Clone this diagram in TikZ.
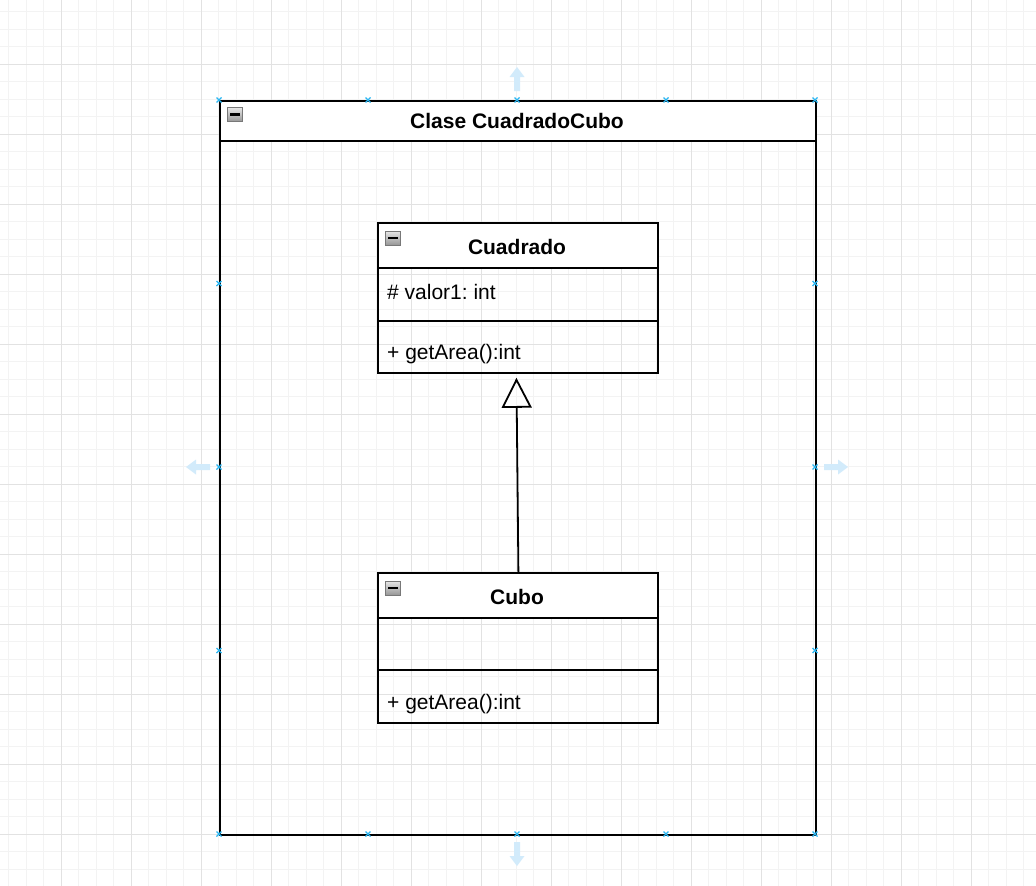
\documentclass[tikz,border=0pt]{standalone}
\usepackage{fontspec}
\setmainfont{Liberation Sans}
\usetikzlibrary{arrows.meta}
\frenchspacing
\definecolor{gridminor}{RGB}{243,243,243}
\definecolor{gridmajor}{RGB}{226,226,226}
\definecolor{handleblue}{RGB}{41,182,242}
\definecolor{arrowblue}{RGB}{210,235,251}
\definecolor{icontop}{RGB}{232,232,232}
\definecolor{iconbottom}{RGB}{150,150,150}
\definecolor{iconborder}{RGB}{120,120,120}
\tikzset{
  classpart/.style={draw=black, line width=1.8pt, rectangle, inner sep=0pt, anchor=north west, minimum width=280pt},
  headtext/.style={font=\fontsize{21}{25}\selectfont\bfseries, anchor=base, inner sep=0pt},
  membertext/.style={font=\fontsize{21}{25}\selectfont, anchor=base west, inner sep=0pt},
  minusicon/.style={draw=iconborder, line width=1pt, rectangle, inner sep=0pt,
    minimum width=15pt, minimum height=14pt, top color=icontop, bottom color=iconbottom,
    path picture={\draw[black, line width=2.4pt] ([xshift=-5pt]path picture bounding box.center) -- ([xshift=5pt]path picture bounding box.center);}},
  handlemark/.style={draw=handleblue, line width=1.3pt},
  fatarrow/.style={fill=arrowblue, draw=none},
  inherit/.style={draw=black, line width=1.8pt, -{Triangle[open, length=30pt, width=30pt, line width=1.8pt]}}
}
\begin{document}
\begin{tikzpicture}[x=1pt, y=-1pt]
\useasboundingbox (0,0) rectangle (1036,886);
\fill[white] (0,0) rectangle (1036,886);
% grid
\foreach \i in {0,...,59} {
  \pgfmathsetmacro\gx{8.8+17.5*\i}
  \draw[gridminor, line width=1pt] (\gx,0) -- (\gx,886);
}
\foreach \i in {0,...,50} {
  \pgfmathsetmacro\gy{11.8+17.5*\i}
  \draw[gridminor, line width=1pt] (0,\gy) -- (1036,\gy);
}
\foreach \i in {-1,...,14} {
  \pgfmathsetmacro\gx{61.3+70*\i}
  \draw[gridmajor, line width=1pt] (\gx,0) -- (\gx,886);
}
\foreach \i in {-1,...,12} {
  \pgfmathsetmacro\gy{64.3+70*\i}
  \draw[gridmajor, line width=1pt] (0,\gy) -- (1036,\gy);
}

% outer container
\node[classpart, fill=white, minimum width=596pt, minimum height=40pt] (outerHead) at (219,100) {};
\node[classpart, minimum width=596pt, minimum height=694pt] (outerBody) at (219,140) {};
\node[minusicon] (outerIcon) at (235,114.5) {};
\node[headtext] (outerTitle) at (517,128) {Clase CuadradoCubo};

% Cuadrado
\node[classpart, fill=white, minimum height=45pt] (cuadradoHead) at (377,222) {};
\node[classpart, minimum height=53pt] (cuadradoAttr) at (377,267) {};
\node[classpart, minimum height=52pt] (cuadradoOps) at (377,320) {};
\node[minusicon] (cuadradoIcon) at (393,238) {};
\node[headtext] (cuadradoTitle) at (517,254) {Cuadrado};
\node[membertext] (cuadradoAttrText) at (387,299) {\# valor1: int};
\node[membertext] (cuadradoOpText) at (387,359) {+ getArea():int};

% Cubo
\node[classpart, fill=white, minimum height=45pt] (cuboHead) at (377,572) {};
\node[classpart, minimum height=52pt] (cuboAttr) at (377,617) {};
\node[classpart, minimum height=53pt] (cuboOps) at (377,669) {};
\node[minusicon] (cuboIcon) at (393,588) {};
\node[headtext] (cuboTitle) at (517,604) {Cubo};
\node[membertext] (cuboOpText) at (387,709) {+ getArea():int};

% inheritance
\draw[inherit, shorten >=4pt] ([xshift=0.5pt]cuboHead.north) -- ([xshift=-1.5pt]cuadradoOps.south);

% selection arrows
\path[fatarrow] (514,91) -- (514,77) -- (509.5,77) -- (517,67) -- (524.5,77) -- (520,77) -- (520,91) -- cycle;
\path[fatarrow] (514,842) -- (514,856) -- (509.5,856) -- (517,866) -- (524.5,856) -- (520,856) -- (520,842) -- cycle;
\path[fatarrow] (210,464) -- (196,464) -- (196,459.5) -- (186,467) -- (196,474.5) -- (196,470) -- (210,470) -- cycle;
\path[fatarrow] (824,464) -- (838,464) -- (838,459.5) -- (848,467) -- (838,474.5) -- (838,470) -- (824,470) -- cycle;

% selection handles
\foreach \hx/\hy in {219/100,368/100,517/100,666/100,815/100,
                     219/834,368/834,517/834,666/834,815/834,
                     219/283.5,219/467,219/650.5,815/283.5,815/467,815/650.5} {
  \draw[handlemark] (\hx-2.5,\hy-2.5) -- (\hx+2.5,\hy+2.5) (\hx-2.5,\hy+2.5) -- (\hx+2.5,\hy-2.5);
}
\end{tikzpicture}
\end{document}
